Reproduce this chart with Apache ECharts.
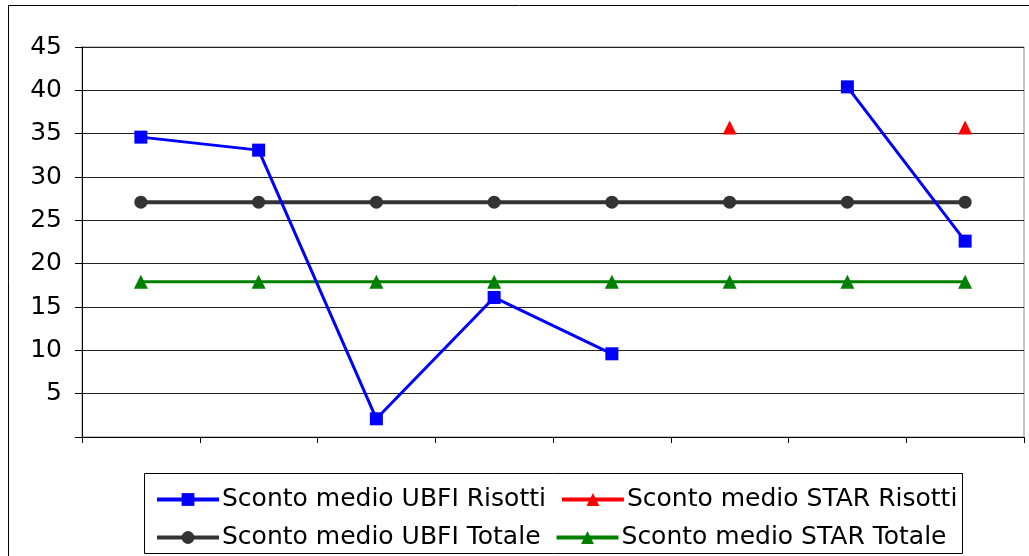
<!DOCTYPE html>
<html>
<head>
<meta charset="utf-8">
<script src="https://cdn.jsdelivr.net/npm/echarts@6/dist/echarts.min.js"></script>
<style>
  html, body { margin: 0; padding: 0; background: #fff; }
  #main { width: 1029px; height: 556px; }
</style>
</head>
<body>
<div id="main"></div>
<script>
var categories = ['1', '2', '3', '4', '5', '6', '7', '8'];
var ubfiRisotti = [34.6, 33.1, 2.1, 16.1, 9.6, null, 40.4, 22.6];
var starRisotti = [null, null, null, null, null, 35.7, null, 35.7];
var ubfiTotale = [27.1, 27.1, 27.1, 27.1, 27.1, 27.1, 27.1, 27.1];
var starTotale = [17.9, 17.9, 17.9, 17.9, 17.9, 17.9, 17.9, 17.9];

var FONT = 'DejaVu Sans';

var legendBase = {
    left: 150,
    itemWidth: 62,
    itemHeight: 16,
    itemGap: 14,
    lineStyle: { width: 4 },
    textStyle: {
        fontFamily: FONT, fontSize: 25, color: '#000',
        width: 326, overflow: 'none', padding: [0, 0, 0, -2]
    },
    z: 10
};

var myChart = echarts.init(document.getElementById('main'));
var option = {
    animation: false,
    textStyle: { fontFamily: FONT },
    grid: {
        left: 82,
        right: 5,
        top: 47,
        bottom: 119,
        show: true,
        borderColor: '#888',
        borderWidth: 1
    },
    graphic: [
        // cornice esterna
        { type: 'rect', shape: { x: 8.5, y: 5.5, width: 1040, height: 600 },
          style: { fill: null, stroke: '#000', lineWidth: 1 } },
        // cornice legenda
        { type: 'rect', shape: { x: 144.5, y: 473.5, width: 818, height: 80 },
          style: { fill: '#fff', stroke: '#000', lineWidth: 1 }, z: 0 }
    ],
    legend: [
        Object.assign({}, legendBase, {
            data: ['Sconto medio UBFI Risotti', 'Sconto medio STAR Risotti'],
            top: 482
        }),
        Object.assign({}, legendBase, {
            data: ['Sconto medio UBFI Totale', 'Sconto medio STAR Totale'],
            top: 520
        })
    ],
    xAxis: {
        type: 'category',
        data: categories,
        boundaryGap: true,
        axisLine: { lineStyle: { color: '#000', width: 1 } },
        axisTick: { show: true, length: 6, lineStyle: { color: '#000' } },
        axisLabel: { show: false },
        splitLine: { show: false }
    },
    yAxis: {
        type: 'value',
        min: 0,
        max: 45,
        interval: 5,
        axisLine: { show: true, lineStyle: { color: '#000', width: 1 } },
        axisTick: { show: true, length: 7, lineStyle: { color: '#000' } },
        axisLabel: {
            margin: 20,
            fontSize: 25,
            fontFamily: FONT,
            color: '#000',
            formatter: function (v) { return v === 0 ? '' : String(v); }
        },
        splitLine: { show: true, lineStyle: { color: '#222', width: 1 } }
    },
    series: [{
        name: 'Sconto medio UBFI Risotti',
        type: 'line',
        data: ubfiRisotti,
        connectNulls: false,
        symbol: 'rect',
        symbolSize: 13,
        itemStyle: { color: '#0000ff' },
        lineStyle: { color: '#0000ff', width: 3 },
        z: 5
    }, {
        name: 'Sconto medio STAR Risotti',
        type: 'line',
        data: starRisotti,
        connectNulls: false,
        symbol: 'triangle',
        symbolSize: 14,
        itemStyle: { color: '#ff0000' },
        lineStyle: { color: '#ff0000', width: 3 },
        z: 4
    }, {
        name: 'Sconto medio UBFI Totale',
        type: 'line',
        data: ubfiTotale,
        symbol: 'circle',
        symbolSize: 13,
        itemStyle: { color: '#333333' },
        lineStyle: { color: '#333333', width: 4 },
        z: 3
    }, {
        name: 'Sconto medio STAR Totale',
        type: 'line',
        data: starTotale,
        symbol: 'triangle',
        symbolSize: 14,
        itemStyle: { color: '#008000' },
        lineStyle: { color: '#008000', width: 3 },
        z: 3
    }]
};
myChart.setOption(option);
</script>
</body>
</html>
